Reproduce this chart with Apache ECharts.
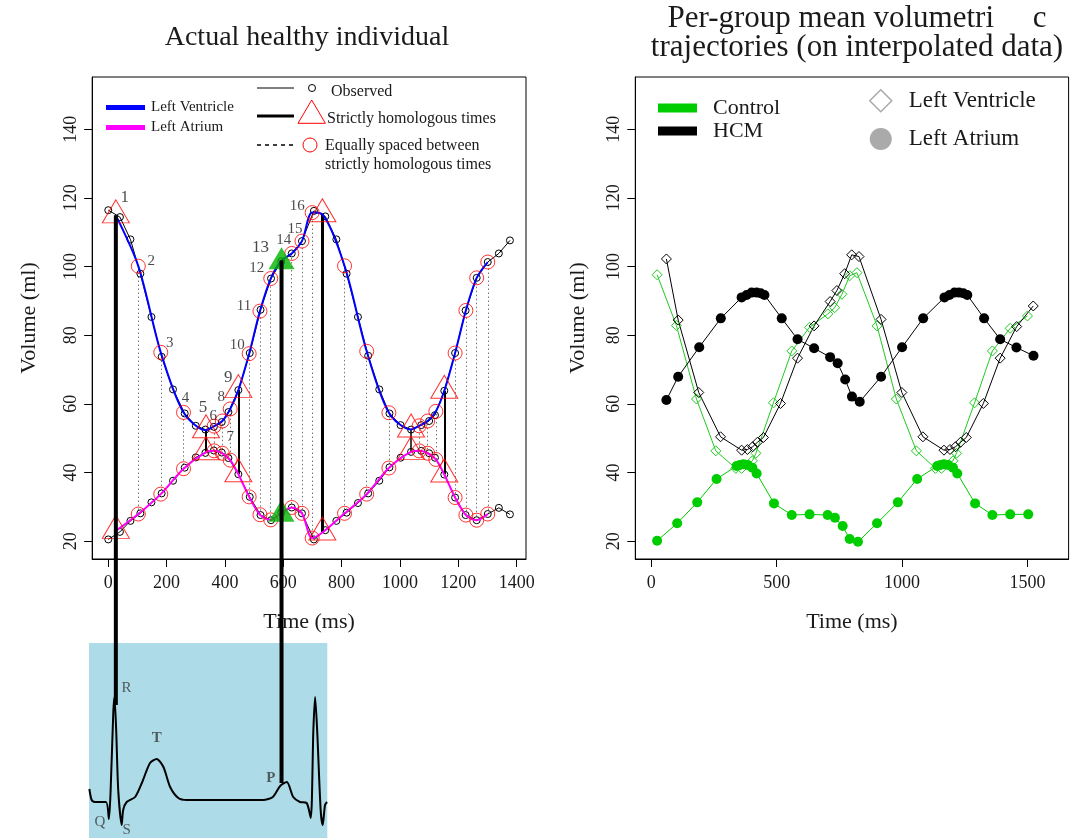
<!DOCTYPE html>
<html>
<head>
<meta charset="utf-8">
<title>Volumetric trajectories</title>
<script src="https://cdn.jsdelivr.net/npm/echarts@6/dist/echarts.min.js"></script>
<style>
  html, body { margin: 0; padding: 0; background: #fff; }
  #chart { width: 1077px; height: 838px; }
</style>
</head>
<body>
<div id="chart"></div>
<script>
// ---------- left panel: one healthy individual ----------
// observed samples (ms, ml)
const obsTime = [0, 40, 76, 110, 148, 183, 222, 262, 300, 333, 362, 389, 412, 446, 485, 522, 558, 593, 629, 664,
  705, 744, 782, 817, 856, 891, 929, 964, 1002, 1038, 1073, 1100, 1120, 1152, 1189, 1225, 1263, 1301, 1339, 1377]
const obsLV = [116.4, 114.4, 107.9, 97.9, 85.3, 73.7, 64.2, 57.2, 53.6, 52.5, 53.3, 54.7, 57.6, 64.0, 74.8, 87.4, 96.5, 101.5, 103.8, 107.4,
  116.2, 114.6, 107.9, 97.9, 85.3, 74.0, 64.2, 57.2, 53.8, 52.5, 53.8, 55.0, 56.7, 63.8, 74.8, 87.2, 96.7, 101.3, 103.8, 107.6]
const obsLA = [20.5, 22.7, 25.9, 28.1, 31.3, 33.9, 37.6, 41.4, 44.4, 45.7, 46.4, 45.8, 44.2, 39.5, 32.9, 27.6, 26.1, 28.3, 29.8, 28.1,
  20.5, 23.2, 25.9, 28.3, 31.1, 33.9, 37.6, 41.5, 44.3, 46.0, 46.3, 45.6, 44.3, 39.4, 32.7, 27.6, 26.1, 27.9, 29.7, 27.8]

// resampled on the homologous grid
const homTime = [26, 103, 180, 258, 335, 363, 391, 418, 446, 483, 520, 557, 594, 629, 664, 699, 734,
  810, 886, 962, 1038, 1066, 1095, 1123, 1152, 1189, 1226, 1263, 1301]
const homLV = [114.9, 100.1, 75.0, 57.5, 52.3, 53.5, 55.0, 58.5, 64.0, 74.6, 87.0, 96.5, 101.8, 103.8, 107.4, 115.7, 115.2,
  100.2, 75.3, 57.4, 52.5, 53.6, 55.0, 57.8, 63.8, 74.8, 87.2, 96.7, 101.3]
const homLA = [23.0, 27.9, 33.7, 41.1, 45.9, 46.3, 45.6, 43.6, 39.5, 32.9, 27.7, 26.2, 28.3, 29.8, 28.1, 20.9, 22.5,
  28.1, 33.7, 41.3, 46.0, 46.3, 45.6, 43.8, 39.4, 32.7, 27.6, 26.1, 27.9]

const strictTimes = [26, 335, 446, 734, 1038, 1152]   // red triangles
const greenTimes = [594]                              // green triangle
const connTimes = [26, 594]                           // lines going down to the ECG
const pointLabels = ['1', '2', '3', '4', '5', '6', '7', '8', '9', '10', '11', '12', '13', '14', '15', '16']

// ---------- ECG sketch ----------
const ecgTime = [-65, -57, -46, -8, 2, 8, 17, 21, 27, 34, 46, 51, 63, 92, 115, 143, 166, 189, 212, 240,
  269, 531, 564, 589, 612, 634, 657, 680, 694, 703, 709, 716, 728, 735, 743, 750]
const ecgAmp = [0.11, 0.00, -0.02, -0.02, -0.19, 0.10, 0.87, 1.03, 0.70, 0.10, -0.25, -0.10, -0.02, 0.03, 0.17, 0.37, 0.41, 0.33, 0.13, 0.02,
  0.00, 0.00, 0.03, 0.14, 0.18, 0.03, -0.02, -0.03, -0.18, 0.70, 1.03, 0.70, -0.10, -0.25, -0.05, -0.02]
const waveNames = ['Q', 'R', 'S', 'T', 'P']
const waveTime = [2, 21, 46, 166, 612]
const waveAmp = [-0.19, 1.03, -0.25, 0.41, 0.18]
const ecgHitAmp = [0.95, 0.17]

// ---------- right panel: group means ----------
const ctrlLVTime = [23, 100, 180, 257, 337, 360, 403, 417, 487, 560, 631, 704, 731, 760, 791, 820,
  900, 977, 1057, 1133, 1157, 1203, 1217, 1289, 1360, 1431, 1500]
const ctrlLV = [97.6, 82.8, 61.4, 46.3, 41.2, 41.2, 43.4, 45.6, 60.3, 75.4, 82.3, 86.2, 88.0, 91.9, 97.3, 98.2,
  82.7, 61.4, 46.3, 41.2, 41.2, 43.4, 45.6, 60.3, 75.4, 82.0, 85.6]
const ctrlLATime = [23, 103, 183, 260, 340, 353, 367, 384, 403, 420, 489, 560, 631, 703, 732, 763, 791, 824,
  900, 983, 1060, 1140, 1153, 1167, 1184, 1203, 1220, 1291, 1360, 1431, 1503]
const ctrlLA = [20.1, 25.2, 31.3, 38.1, 41.9, 42.2, 42.4, 42.2, 41.4, 39.7, 31.0, 27.6, 27.8, 27.6, 26.8, 24.4, 20.6, 19.8,
  25.2, 31.3, 38.1, 41.9, 42.2, 42.4, 42.2, 41.4, 39.7, 31.0, 27.6, 27.8, 27.8]
const hcmLVTime = [60, 107, 189, 276, 360, 383, 404, 423, 447, 515, 583, 649, 713, 740, 771, 799, 828,
  916, 999, 1083, 1167, 1191, 1213, 1233, 1256, 1324, 1391, 1457, 1523]
const hcmLV = [102.2, 84.4, 63.3, 50.4, 46.5, 46.7, 47.5, 48.8, 50.2, 60.1, 73.3, 82.7, 89.8, 93.0, 97.9, 103.4, 102.9,
  84.6, 63.3, 50.4, 46.5, 46.7, 47.5, 48.8, 50.2, 60.1, 73.3, 82.5, 88.5]
const hcmLATime = [60, 107, 191, 277, 360, 380, 400, 420, 436, 451, 520, 583, 649, 713, 743, 773, 800, 831,
  916, 1000, 1084, 1169, 1189, 1209, 1227, 1244, 1260, 1327, 1391, 1456, 1524]
const hcmLA = [61.1, 67.9, 76.5, 84.9, 91.0, 91.7, 92.4, 92.4, 92.2, 91.7, 84.9, 78.8, 76.2, 73.6, 71.8, 67.1, 62.1, 60.6,
  67.9, 76.5, 84.9, 91.0, 91.7, 92.4, 92.4, 92.2, 91.7, 84.9, 78.8, 76.4, 74.0]

// tick labels
const xTicksLeft = [0, 200, 400, 600, 800, 1000, 1200, 1400]
const xTicksRight = [0, 500, 1000, 1500]
const yTicks = [20, 40, 60, 80, 100, 120, 140]

// ---------- styles ----------
const FONT = 'Liberation Serif'
const INK = '#1a1a1a'
const GREEN = '#00CD00'
const labelOffsets = [[9, -18], [13, -5], [9, -9], [2, -14], [-3, -23], [-1, -10], [8, 16], [-9, -12],
  [-10, -13], [-12, -9], [-16, -5], [-14, -10], [-21, -13], [-8, -13], [-7, -12], [-15, -7]]
const waveOffsets = [[-9, 3], [12, -9], [5, 5], [0, -21], [-16, -4]]
const strictWidth = { 335: 2, 446: 2, 734: 3, 1038: 1.5, 1152: 2 }

const pairs = (xs, ys) => xs.map((x, i) => [x, ys[i]])
const idxOf = t => homTime.indexOf(t)
const isMarked = t => strictTimes.includes(t) || greenTimes.includes(t)
const circleIdx = homTime.map((t, i) => i).filter(i => !isMarked(homTime[i]))

const chart = echarts.init(document.getElementById('chart'))

// R-like axis: box drawn by the grid, ticks outside, plain numbers
const axisBase = (ticks) => ({
  type: 'value',
  splitLine: { show: false },
  axisLine: { show: true, onZero: false, lineStyle: { color: '#000', width: 1 } },
  axisTick: { show: true, inside: false, length: 8, customValues: ticks, lineStyle: { color: '#000', width: 1 } },
  axisLabel: { customValues: ticks, color: INK, fontFamily: FONT, fontSize: 18, formatter: v => String(v) },
  nameLocation: 'middle',
  nameTextStyle: { color: INK, fontFamily: FONT, fontSize: 22 }
})

const xLeft = Object.assign(axisBase(xTicksLeft), { gridIndex: 0, min: -55.08, max: 1432.08, name: 'Time (ms)', nameGap: 52 })
xLeft.axisLabel.margin = 15
const xRight = Object.assign(axisBase(xTicksRight), { gridIndex: 1, min: -64, max: 1664, name: 'Time (ms)', nameGap: 52 })
xRight.axisLabel.margin = 15
const yLeft = Object.assign(axisBase(yTicks), { gridIndex: 0, min: 14.8, max: 155.2, name: 'Volume (ml)', nameGap: 52 })
yLeft.axisLabel.rotate = 90
yLeft.axisLabel.margin = 12
const yRight = Object.assign(axisBase(yTicks), { gridIndex: 1, min: 14.8, max: 155.2, name: 'Volume (ml)', nameGap: 46 })
yRight.axisLabel.rotate = 90
yRight.axisLabel.margin = 12

const L = { xAxisIndex: 0, yAxisIndex: 0 }
const R = { xAxisIndex: 1, yAxisIndex: 1 }

const series = [
  // dotted links at equally spaced times
  Object.assign({
    type: 'lines', coordinateSystem: 'cartesian2d', silent: true, z: 1,
    data: circleIdx.map(i => ({ coords: [[homTime[i], homLA[i]], [homTime[i], homLV[i]]] })),
    lineStyle: { color: '#777', width: 1, type: [1.5, 2.5], opacity: 1 }
  }, L),
  // solid links at strictly homologous times
  Object.assign({
    type: 'lines', coordinateSystem: 'cartesian2d', silent: true, z: 2,
    data: strictTimes.filter(t => !connTimes.includes(t)).map(t => {
      const i = idxOf(t)
      return { coords: [[t, homLA[i]], [t, homLV[i]]], lineStyle: { width: strictWidth[t] } }
    }),
    lineStyle: { color: '#000', opacity: 1 }
  }, L),
  // connectors down to the ECG (bottom end set after layout)
  ...connTimes.map((t, k) => Object.assign({
    id: 'conn' + k, type: 'line', clip: false, symbol: 'none', z: 7, silent: true,
    data: [[t, homLV[idxOf(t)]], [t, homLV[idxOf(t)]]],
    lineStyle: { color: '#000', width: 4 }
  }, L)),
  // observed
  Object.assign({
    name: 'Observed', type: 'line', data: pairs(obsTime, obsLV), symbol: 'circle', symbolSize: 7, z: 3,
    itemStyle: { color: 'rgba(0,0,0,0)', borderColor: '#000', borderWidth: 1 }, lineStyle: { color: '#000', width: 1 }
  }, L),
  Object.assign({
    name: 'Observed', type: 'line', data: pairs(obsTime, obsLA), symbol: 'circle', symbolSize: 7, z: 3,
    itemStyle: { color: 'rgba(0,0,0,0)', borderColor: '#000', borderWidth: 1 }, lineStyle: { color: '#000', width: 1 }
  }, L),
  // resampled curves
  Object.assign({
    name: 'Left Ventricle', type: 'line', data: pairs(homTime, homLV), smooth: 0.3, symbol: 'none', z: 4,
    color: '#0000FF', lineStyle: { width: 2 }
  }, L),
  Object.assign({
    name: 'Left Atrium', type: 'line', data: pairs(homTime, homLA), smooth: 0.3, symbol: 'none', z: 4,
    color: '#FF00FF', lineStyle: { width: 2 }
  }, L),
  // red circles
  Object.assign({
    type: 'scatter', symbol: 'circle', symbolSize: 14, z: 5, silent: true,
    data: circleIdx.map(i => [homTime[i], homLV[i]]).concat(circleIdx.map(i => [homTime[i], homLA[i]])),
    itemStyle: { color: 'rgba(0,0,0,0)', borderColor: '#FF0000', borderWidth: 1 }
  }, L),
  // red triangles
  Object.assign({
    type: 'scatter', symbol: 'triangle', symbolSize: [27, 23], symbolOffset: [0, -4], z: 5, silent: true,
    data: strictTimes.map(t => [t, homLV[idxOf(t)]]).concat(strictTimes.map(t => [t, homLA[idxOf(t)]])),
    itemStyle: { color: 'rgba(0,0,0,0)', borderColor: '#FF0000', borderWidth: 1 }
  }, L),
  // green triangle
  Object.assign({
    type: 'scatter', symbol: 'triangle', symbolSize: [26, 22], symbolOffset: [0, -2], z: 6, silent: true,
    data: greenTimes.map(t => [t, homLV[idxOf(t)]]).concat(greenTimes.map(t => [t, homLA[idxOf(t)]])),
    itemStyle: { color: '#00B400' }
  }, L),
  // numbers
  Object.assign({
    type: 'scatter', symbolSize: 1, z: 8, silent: true, itemStyle: { color: 'rgba(0,0,0,0)' },
    data: pointLabels.map((s, i) => ({
      name: s, value: [homTime[i], homLV[i]],
      label: { offset: labelOffsets[i], fontSize: isMarked(homTime[i]) ? 17 : 15 }
    })),
    label: { show: true, position: 'inside', formatter: '{b}', color: INK, fontFamily: FONT }
  }, L),

  // ECG
  {
    type: 'line', xAxisIndex: 2, yAxisIndex: 2, data: pairs(ecgTime, ecgAmp), smooth: 0.25, symbol: 'none', z: 3,
    lineStyle: { color: '#000', width: 2 }, silent: true
  },
  {
    type: 'scatter', xAxisIndex: 2, yAxisIndex: 2, symbolSize: 1, z: 8, silent: true, itemStyle: { color: 'rgba(0,0,0,0)' },
    data: waveNames.map((s, i) => ({
      name: s, value: [waveTime[i], waveAmp[i]],
      label: { offset: waveOffsets[i], fontWeight: (s === 'T' || s === 'P') ? 'bold' : 'normal' }
    })),
    label: { show: true, position: 'inside', formatter: '{b}', color: '#3a3a3a', fontFamily: FONT, fontSize: 15 }
  },

  // right panel
  Object.assign({
    name: 'Control LV', type: 'line', data: pairs(ctrlLVTime, ctrlLV), symbol: 'diamond', symbolSize: 10, z: 3,
    itemStyle: { color: 'rgba(0,0,0,0)', borderColor: '#22C922', borderWidth: 1 }, lineStyle: { color: '#22C922', width: 1 }
  }, R),
  Object.assign({
    name: 'HCM LV', type: 'line', data: pairs(hcmLVTime, hcmLV), symbol: 'diamond', symbolSize: 10, z: 3,
    itemStyle: { color: 'rgba(0,0,0,0)', borderColor: '#000', borderWidth: 1 }, lineStyle: { color: '#000', width: 1 }
  }, R),
  Object.assign({
    name: 'Control LA', type: 'line', data: pairs(ctrlLATime, ctrlLA), symbol: 'circle', symbolSize: 10, z: 3,
    itemStyle: { color: GREEN }, lineStyle: { color: GREEN, width: 1 }
  }, R),
  Object.assign({
    name: 'HCM LA', type: 'line', data: pairs(hcmLATime, hcmLA), symbol: 'circle', symbolSize: 10, z: 3,
    itemStyle: { color: '#000' }, lineStyle: { color: '#000', width: 1 }
  }, R),
  // legend-only entries
  Object.assign({ name: 'Control', type: 'line', data: [], color: GREEN }, R),
  Object.assign({ name: 'HCM', type: 'line', data: [], color: '#000' }, R),
  Object.assign({ name: 'lvShape', type: 'line', data: [], color: '#aaa' }, R),
  Object.assign({ name: 'laShape', type: 'line', data: [], color: '#aaa' }, R)
]

const legendText = { fontFamily: FONT, color: INK }

const option = {
  animation: false,
  backgroundColor: '#fff',
  title: [
    {
      text: 'Actual healthy individual', left: 307, top: 24, textAlign: 'center', padding: 0,
      textStyle: { fontFamily: FONT, fontSize: 28, fontWeight: 'normal', color: INK }
    },
    {
      text: 'Per-group mean volumetri     c\ntrajectories (on interpolated data)', left: 857, top: 4, textAlign: 'center', padding: 0,
      textStyle: { fontFamily: FONT, fontSize: 31, fontWeight: 'normal', color: INK, lineHeight: 29 }
    }
  ],
  grid: [
    { left: 92.2, top: 77, width: 433.8, height: 482, show: true, borderColor: '#000', borderWidth: 1, backgroundColor: 'rgba(0,0,0,0)' },
    { left: 635.3, top: 77, width: 433.3, height: 482, show: true, borderColor: '#000', borderWidth: 1, backgroundColor: 'rgba(0,0,0,0)' },
    { left: 89, top: 643, width: 238.3, height: 195, show: true, borderWidth: 0, backgroundColor: '#ADDBE8' }
  ],
  xAxis: [xLeft, xRight, { gridIndex: 2, type: 'value', min: -66.2, max: 750.8, show: false }],
  yAxis: [yLeft, yRight, { gridIndex: 2, type: 'value', min: -0.38, max: 1.57, show: false }],
  legend: [
    {
      data: [{ name: 'Left Ventricle', icon: 'rect' }, { name: 'Left Atrium', icon: 'rect' }],
      orient: 'vertical', left: 106, top: 100, itemWidth: 39, itemHeight: 5, itemGap: 5, padding: 0,
      selectedMode: false, textStyle: Object.assign({ fontSize: 15, padding: [0, 0, 0, 1] }, legendText)
    },
    {
      data: [{ name: 'Control', icon: 'rect' }, { name: 'HCM', icon: 'rect' }],
      orient: 'vertical', left: 658, top: 97, itemWidth: 39, itemHeight: 9, itemGap: 1, padding: 0,
      selectedMode: false, textStyle: Object.assign({ fontSize: 22, padding: [0, 0, 0, 11] }, legendText)
    },
    {
      data: [
        { name: 'lvShape', icon: 'diamond', itemStyle: { color: '#fff', borderColor: '#aaa', borderWidth: 1.5 } },
        { name: 'laShape', icon: 'circle', itemStyle: { color: '#aaa' } }
      ],
      formatter: n => (n === 'lvShape' ? 'Left Ventricle' : 'Left Atrium'),
      orient: 'vertical', left: 869, top: 89, itemWidth: 22, itemHeight: 22, itemGap: 15, padding: 0,
      selectedMode: false, textStyle: Object.assign({ fontSize: 23, padding: [0, 0, 0, 12] }, legendText)
    }
  ],
  graphic: [
    { type: 'line', shape: { x1: 257, y1: 88, x2: 294, y2: 88 }, style: { stroke: '#000', lineWidth: 1 } },
    { type: 'circle', shape: { cx: 312, cy: 88, r: 3.5 }, style: { fill: 'none', stroke: '#000', lineWidth: 1 } },
    { type: 'text', x: 331, y: 92, style: { text: 'Observed', font: '16px "Liberation Serif"', fill: INK, verticalAlign: 'middle' } },
    { type: 'line', shape: { x1: 257, y1: 116, x2: 294, y2: 116 }, style: { stroke: '#000', lineWidth: 3 } },
    { type: 'polygon', shape: { points: [[311.7, 100], [298, 123.3], [325.4, 123.3]] }, style: { fill: 'none', stroke: '#FF0000', lineWidth: 1 } },
    { type: 'text', x: 327, y: 119, style: { text: 'Strictly homologous times', font: '16px "Liberation Serif"', fill: INK, verticalAlign: 'middle' } },
    { type: 'line', shape: { x1: 257, y1: 145, x2: 294, y2: 145 }, style: { stroke: '#000', lineWidth: 1.5, lineDash: [4, 4] } },
    { type: 'circle', shape: { cx: 310, cy: 145, r: 7 }, style: { fill: 'none', stroke: '#FF0000', lineWidth: 1 } },
    { type: 'text', x: 325, y: 146, style: { text: 'Equally spaced between', font: '16px "Liberation Serif"', fill: INK, verticalAlign: 'middle' } },
    { type: 'text', x: 325, y: 165, style: { text: 'strictly homologous times', font: '16px "Liberation Serif"', fill: INK, verticalAlign: 'middle' } }
  ],
  series
}

chart.setOption(option)

// bring the two connectors down to the ECG trace, through the library's scales
const connUpdate = connTimes.map((t, k) => {
  const px = chart.convertToPixel({ gridIndex: 2 }, [t, ecgHitAmp[k]])
  const v = chart.convertFromPixel({ gridIndex: 0 }, px)
  return { id: 'conn' + k, data: [[t, homLV[idxOf(t)]], [t, v[1]]] }
})
chart.setOption({ series: connUpdate })
</script>
</body>
</html>
